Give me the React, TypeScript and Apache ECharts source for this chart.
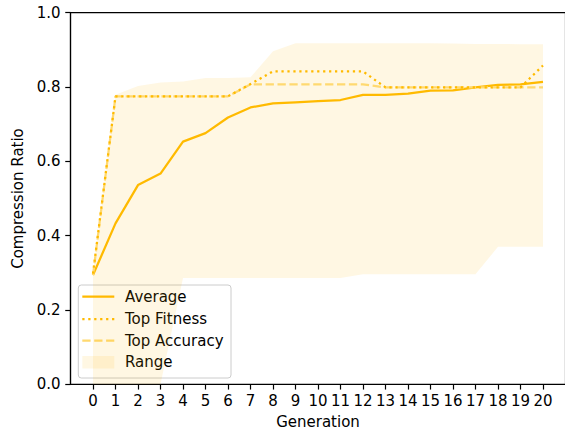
import React, { useEffect, useRef } from "react";
import * as echarts from "echarts";

const generations = [0, 1, 2, 3, 4, 5, 6, 7, 8, 9, 10, 11, 12, 13, 14, 15, 16, 17, 18, 19, 20];

const average = [
  0.294, 0.433, 0.536, 0.567, 0.653, 0.676, 0.718, 0.745, 0.756, 0.759, 0.762,
  0.765, 0.779, 0.779, 0.782, 0.79, 0.791, 0.799, 0.806, 0.807, 0.814,
];
const topFitness = [
  0.298, 0.775, 0.775, 0.775, 0.775, 0.775, 0.775, 0.808, 0.842, 0.842, 0.842,
  0.842, 0.842, 0.799, 0.799, 0.799, 0.799, 0.799, 0.799, 0.799, 0.858,
];
const topAccuracy = [
  0.294, 0.775, 0.775, 0.775, 0.775, 0.775, 0.775, 0.807, 0.807, 0.807, 0.807,
  0.807, 0.807, 0.799, 0.799, 0.799, 0.799, 0.799, 0.799, 0.799, 0.799,
];
const rangeLow = [
  0, 0, 0, 0, 0.286, 0.286, 0.286, 0.286, 0.286, 0.286, 0.286,
  0.286, 0.296, 0.296, 0.296, 0.296, 0.296, 0.296, 0.37, 0.37, 0.37,
];
const rangeHigh = [
  0.3, 0.779, 0.803, 0.812, 0.815, 0.824, 0.824, 0.826, 0.896, 0.918, 0.918,
  0.918, 0.918, 0.918, 0.918, 0.918, 0.917, 0.916, 0.916, 0.915, 0.915,
];
const yTicks = [0, 0.2, 0.4, 0.6, 0.8, 1.0];
const legendNames = ["Average", "Top Fitness", "Top Accuracy", "Range"];

const AMBER = "#FFBA00";
const AMBER_LIGHT = "#FFD970";
const FILL = "rgba(255,186,0,0.11)";
const FONT = "DejaVu Sans";
const FS = 15;
const LW = 2.25;
const AXIS_W = 1.2;
const TICK_LEN = 5.25;
const DOTTED = [2.25, 3.7];
const DASHED = [8.3, 3.6];

const pairs = (vals: number[]) => generations.map((g, i) => [g, vals[i]]);

// Legend drawn as graphic elements: framed box, line handles, swatch and labels.
function buildLegend() {
  const boxX = 78.3;
  const boxY = 285;
  const rowY = [296.7, 319, 340.7, 362.3];
  const hx0 = 82.3;
  const hx1 = 114.3;
  const textX = 125;
  const children: any[] = [
    {
      type: "rect",
      shape: { x: boxX, y: boxY, width: 152.7, height: 93, r: 3 },
      style: { fill: "rgba(255,255,255,0.8)", stroke: "#cccccc", lineWidth: 1 },
    },
    {
      type: "line",
      shape: { x1: hx0, y1: rowY[0], x2: hx1, y2: rowY[0] },
      style: { stroke: AMBER, lineWidth: LW },
    },
    {
      type: "line",
      shape: { x1: hx0, y1: rowY[1], x2: hx1, y2: rowY[1] },
      style: { stroke: AMBER, lineWidth: LW, lineDash: DOTTED, lineCap: "butt" },
    },
    {
      type: "line",
      shape: { x1: hx0, y1: rowY[2], x2: hx1, y2: rowY[2] },
      style: { stroke: AMBER_LIGHT, lineWidth: LW, lineDash: DASHED, lineCap: "butt" },
    },
    {
      type: "rect",
      shape: { x: hx0, y: rowY[3] - 6.2, width: 32, height: 12.4 },
      style: { fill: FILL },
    },
  ];
  legendNames.forEach((name, i) => {
    children.push({
      type: "text",
      x: textX,
      y: rowY[i],
      style: {
        text: name,
        fontFamily: FONT,
        fontSize: FS,
        fill: "#000",
        verticalAlign: "middle",
        align: "left",
      },
    });
  });
  return [{ type: "group", z: 100, children }];
}

export default function App() {
  const ref = useRef<HTMLDivElement>(null);

  useEffect(() => {
    if (!ref.current) return;
    const chart = echarts.init(ref.current, undefined, { renderer: "svg" });
    chart.setOption({
      animation: false,
      backgroundColor: "#fff",
      textStyle: { fontFamily: FONT, fontSize: FS, color: "#000" },
      grid: {
        left: 70.5,
        right: -0.5,
        top: 12.7,
        bottom: 48.7,
        show: true,
        borderColor: "#000",
        borderWidth: AXIS_W,
        backgroundColor: "transparent",
        outerBoundsMode: "none",
        containLabel: false,
      },
      xAxis: {
        type: "value",
        min: -1,
        max: 21,
        interval: 1,
        name: "Generation",
        nameLocation: "middle",
        nameGap: 30,
        nameTextStyle: { fontFamily: FONT, fontSize: FS, color: "#000" },
        axisLine: { show: true, onZero: false, lineStyle: { color: "#000", width: AXIS_W } },
        axisTick: {
          show: true,
          length: TICK_LEN,
          lineStyle: { color: "#000", width: AXIS_W },
          customValues: generations,
        },
        axisLabel: {
          fontFamily: FONT,
          fontSize: FS,
          color: "#000",
          margin: 8.7,
          customValues: generations,
          formatter: (v: number) => (v < 0 || v > 20 ? "" : String(v)),
        },
        splitLine: { show: false },
      },
      yAxis: {
        type: "value",
        min: 0,
        max: 1,
        interval: 0.2,
        name: "Compression Ratio",
        nameLocation: "middle",
        nameGap: 37,
        nameTextStyle: { fontFamily: FONT, fontSize: FS, color: "#000" },
        axisLine: { show: true, onZero: false, lineStyle: { color: "#000", width: AXIS_W } },
        axisTick: {
          show: true,
          length: TICK_LEN,
          lineStyle: { color: "#000", width: AXIS_W },
          customValues: yTicks,
        },
        axisLabel: {
          fontFamily: FONT,
          fontSize: FS,
          color: "#000",
          margin: 10,
          customValues: yTicks,
          formatter: (v: number) => v.toFixed(1),
        },
        splitLine: { show: false },
      },
      graphic: buildLegend(),
      series: [
        {
          // min-max band across the population, one polygon through the axis scales
          name: "Range",
          type: "custom",
          silent: true,
          z: 1,
          data: [[0]],
          renderItem: (_params: any, api: any) => {
            const upper = generations.map((g, i) => api.coord([g, rangeHigh[i]]));
            const lower = generations
              .map((g, i) => api.coord([g, rangeLow[i]]))
              .reverse();
            return {
              type: "polygon",
              shape: { points: upper.concat(lower) },
              style: { fill: FILL, stroke: "none" },
            };
          },
        },
        {
          name: "Average",
          type: "line",
          data: pairs(average),
          symbol: "none",
          color: AMBER,
          lineStyle: { color: AMBER, width: LW, join: "round" },
          z: 3,
        },
        {
          name: "Top Accuracy",
          type: "line",
          data: pairs(topAccuracy),
          symbol: "none",
          color: AMBER_LIGHT,
          lineStyle: { color: AMBER_LIGHT, width: LW, type: DASHED, cap: "butt" },
          z: 3,
        },
        {
          name: "Top Fitness",
          type: "line",
          data: pairs(topFitness),
          symbol: "none",
          color: AMBER,
          lineStyle: { color: AMBER, width: LW, type: DOTTED, cap: "butt" },
          z: 4,
        },
      ],
    });
    return () => chart.dispose();
  }, []);

  return (
    <div
      ref={ref}
      style={{ position: "fixed", left: 0, top: 0, width: 565, height: 433, background: "#fff" }}
    />
  );
}
